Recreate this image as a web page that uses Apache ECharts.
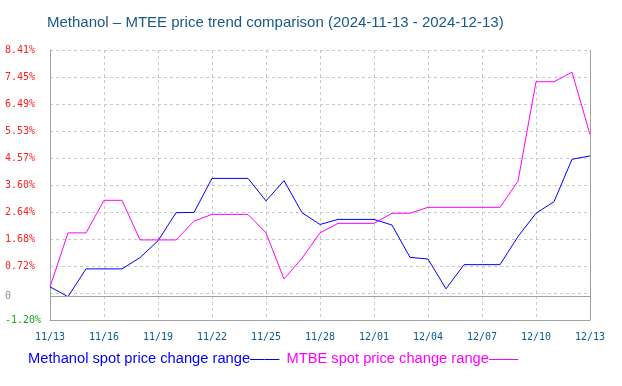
<!DOCTYPE html>
<html>
<head>
<meta charset="utf-8">
<script src="https://cdn.jsdelivr.net/npm/echarts@6/dist/echarts.min.js"></script>
<style>html,body{margin:0;padding:0;background:#fff}#c{width:622px;height:386px}</style>
</head>
<body>
<div id="c"></div>
<script>
var categories = ['11/13','11/14','11/15','11/16','11/17','11/18','11/19','11/20','11/21','11/22','11/23','11/24','11/25','11/26','11/27','11/28','11/29','11/30','12/01','12/02','12/03','12/04','12/05','12/06','12/07','12/08','12/09','12/10','12/11','12/12','12/13'];
var methanol = [-0.02,-0.37,0.62,0.62,0.62,1.02,1.62,2.62,2.63,3.84,3.84,3.84,3.04,3.76,2.62,2.20,2.38,2.38,2.38,2.18,1.03,0.97,-0.09,0.77,0.77,0.77,1.77,2.60,3.01,4.52,4.64];
var mtbe = [-0.02,1.90,1.90,3.06,3.06,1.65,1.65,1.65,2.32,2.56,2.56,2.56,1.90,0.26,1.00,1.90,2.24,2.24,2.24,2.60,2.60,2.81,2.81,2.81,2.81,2.81,3.74,7.28,7.28,7.62,5.41];
var yGridValues = [-1.2,-0.239,0.722,1.683,2.644,3.605,4.566,5.527,6.488,7.449,8.41];
var yLabelValues = [-1.2,-0.36,0.722,1.683,2.644,3.605,4.566,5.527,6.488,7.449,8.41];
var yTickLabels = ['-1.20%','0','0.72%','1.68%','2.64%','3.60%','4.57%','5.53%','6.49%','7.45%','8.41%'];
var zeroLineValue = -0.36;
var seriesNames = ['Methanol spot price change range','MTBE spot price change range'];

function labelIndex(v){
  for (var k = 0; k < yLabelValues.length; k++) {
    if (Math.abs(yLabelValues[k] - v) < 1e-6) return k;
  }
  return -1;
}

var chart = echarts.init(document.getElementById('c'), null, {renderer:'canvas'});
var dash = {type:[3,3], color:'#c8c8c8', width:1};
chart.setOption({
  animation:false,
  backgroundColor:'#fff',
  title:{
    text:'Methanol \u2013 MTEE price trend comparison (2024-11-13 - 2024-12-13)',
    left:42, top:10,
    textStyle:{fontFamily:'Liberation Sans, Arial', fontSize:15, fontWeight:'normal', color:'#17598a'}
  },
  legend:{
    left:18, top:346, icon:'none', itemWidth:0, itemHeight:0, itemGap:2,
    formatter:function(n){return n+'\u2014\u2014';},
    textStyle:{fontFamily:'Liberation Sans, Arial', fontSize:14.7},
    data:[{name:seriesNames[0], textStyle:{color:'#0000ff'}},{name:seriesNames[1], textStyle:{color:'#ff00ff'}}]
  },
  grid:{left:50, right:32, top:50, bottom:66},
  xAxis:{
    type:'category', data:categories, boundaryGap:false,
    axisLine:{show:true, onZero:false, lineStyle:{color:'#a0a0a0', width:1}},
    axisTick:{show:false},
    axisLabel:{interval:2, margin:12, color:'#0b5a8e', fontFamily:'DejaVu Sans Mono', fontSize:10},
    splitLine:{show:true, interval:2, lineStyle:dash}
  },
  yAxis:[{
    type:'value', min:-1.2, max:8.41,
    axisLine:{show:true, lineStyle:{color:'#a0a0a0', width:1}},
    axisTick:{show:false, customValues:yGridValues},
    splitLine:{show:true, lineStyle:dash},
    axisLabel:{
      customValues:yLabelValues, align:'left', margin:45,
      fontFamily:'DejaVu Sans Mono', fontSize:10,
      formatter:function(v){
        var i = labelIndex(v);
        var t = yTickLabels[i];
        var s = i===0 ? 'g' : (i===1 ? 'z' : 'r');
        return '{'+s+'|'+t+'}';
      },
      rich:{
        r:{color:'#ff2020', fontFamily:'DejaVu Sans Mono', fontSize:10},
        g:{color:'#20a020', fontFamily:'DejaVu Sans Mono', fontSize:10},
        z:{color:'#909090', fontFamily:'DejaVu Sans Mono', fontSize:10}
      }
    }
  },{
    type:'value', min:-1.2, max:8.41, position:'right',
    axisLine:{show:true, lineStyle:{color:'#a0a0a0', width:1}},
    axisTick:{show:false}, axisLabel:{show:false}, splitLine:{show:false}
  }],
  series:[{
    name:seriesNames[0], type:'line', data:methanol, symbol:'none',
    lineStyle:{color:'#0000ff', width:1}, itemStyle:{color:'#0000ff'},
    markLine:{silent:true, symbol:'none', label:{show:false},
      lineStyle:{color:'#a0a0a0', type:'solid', width:1},
      data:[{yAxis:zeroLineValue}]}
  },{
    name:seriesNames[1], type:'line', data:mtbe, symbol:'none',
    lineStyle:{color:'#ff00ff', width:1}, itemStyle:{color:'#ff00ff'}
  }]
});
</script>
</body>
</html>
